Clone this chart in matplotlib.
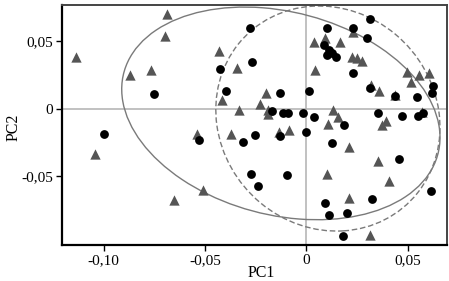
import matplotlib
matplotlib.use("Agg")
import matplotlib.pyplot as plt
from matplotlib.patches import Ellipse
from matplotlib.ticker import FixedLocator, FixedFormatter

# group 1 (triangles)
tri_x = [-0.0688, -0.0698, -0.1139, -0.0871, -0.0769, -0.0432, -0.0341, 0.0037,
         0.0040, -0.0417, -0.0201, -0.0229, -0.0333, -0.0188, -0.0188, -0.0542,
         -0.0370, -0.0133, -0.0084, -0.0509, -0.1041, -0.0652, 0.0228, 0.0094,
         0.0165, 0.0224, 0.0248, 0.0274, 0.0496, 0.0557, 0.0605, 0.0516,
         0.0318, 0.0360, 0.0437, 0.0568, 0.0132, 0.0155, 0.0109, 0.0371,
         0.0392, 0.0211, 0.0351, 0.0100, 0.0408, 0.0211, 0.0313]
tri_y = [0.0699, 0.0537, 0.0380, 0.0249, 0.0286, 0.0428, 0.0298, 0.0490,
         0.0286, 0.0068, 0.0114, 0.0035, -0.0010, -0.0010, -0.0035, -0.0183,
         -0.0183, -0.0172, -0.0157, -0.0600, -0.0335, -0.0677, 0.0569, 0.0520,
         0.0490, 0.0384, 0.0374, 0.0355, 0.0275, 0.0249, 0.0266, 0.0201,
         0.0179, 0.0131, 0.0101, -0.0022, -0.0010, -0.0058, -0.0109, -0.0120,
         -0.0087, -0.0281, -0.0384, -0.0482, -0.0536, -0.0656, -0.0933]

# group 2 (circles)
cir_x = [-0.0751, -0.0279, -0.0267, -0.0427, -0.0399, -0.0131, 0.0015, -0.0172,
         -0.0114, -0.0093, -0.0016, 0.0039, -0.0528, -0.0312, -0.0254, -0.0128,
         -0.0002, -0.0275, -0.0095, -0.0241, -0.0998, 0.0313, 0.0100, 0.0228,
         0.0297, 0.0089, 0.0111, 0.0104, 0.0128, 0.0145, 0.0231, 0.0626,
         0.0622, 0.0313, 0.0437, 0.0547, 0.0353, 0.0470, 0.0552, 0.0576,
         0.0185, 0.0124, 0.0458, 0.0614, 0.0091, 0.0325, 0.0111, 0.0201, 0.0182]
cir_y = [0.0109, 0.0594, 0.0347, 0.0295, 0.0131, 0.0114, 0.0134, -0.0019,
         -0.0030, -0.0030, -0.0034, -0.0064, -0.0231, -0.0244, -0.0194, -0.0202,
         -0.0170, -0.0482, -0.0490, -0.0571, -0.0189, 0.0662, 0.0594, 0.0594,
         0.0522, 0.0470, 0.0434, 0.0397, 0.0409, 0.0380, 0.0264, 0.0168,
         0.0116, 0.0151, 0.0092, 0.0089, -0.0034, -0.0052, -0.0054, -0.0034,
         -0.0120, -0.0250, -0.0371, -0.0608, -0.0699, -0.0669, -0.0784, -0.0768, -0.0938]

# confidence ellipses: center, width, height, angle
tri_ell = ((-0.0126, -0.0034), 0.174, 0.138, -45)
cir_ell = ((0.0106, -0.0072), 0.110, 0.1666, 5.3)

x_ticks = [-0.10, -0.05, 0, 0.05]
x_labels = ["-0,10", "-0,05", "0", "0,05"]
y_ticks = [-0.05, 0, 0.05]
y_labels = ["-0,05", "0", "0,05"]

plt.rcParams["font.family"] = ["Liberation Serif", "DejaVu Serif"]

fig = plt.figure(figsize=(4.49, 2.81), dpi=100)
ax = fig.add_axes([0.138, 0.129, 0.8586, 0.853])

ax.axhline(0, color="#b0b0b0", lw=1.1, zorder=1)
ax.axvline(0, color="#b0b0b0", lw=1.1, zorder=1)

c, w, h, a = tri_ell
ax.add_patch(Ellipse(c, w, h, angle=a, fill=False, ec="#7a7a7a", lw=1.0, zorder=2))
c, w, h, a = cir_ell
ax.add_patch(Ellipse(c, w, h, angle=a, fill=False, ec="#7a7a7a", lw=1.0,
                     ls=(0, (4, 2)), zorder=2))

ax.scatter(tri_x, tri_y, marker="^", s=55, color="#555555", lw=0, zorder=3)
ax.scatter(cir_x, cir_y, marker="o", s=40, color="black", lw=0, zorder=4)

ax.set_xlim(-0.1206, 0.0696)
ax.set_ylim(-0.1004, 0.0766)

ax.xaxis.set_major_locator(FixedLocator(x_ticks))
ax.xaxis.set_major_formatter(FixedFormatter(x_labels))
ax.yaxis.set_major_locator(FixedLocator(y_ticks))
ax.yaxis.set_major_formatter(FixedFormatter(y_labels))
ax.tick_params(direction="out", length=4.5, width=1.0, labelsize=11, pad=2,
               colors="black")

for side in ["left", "bottom"]:
    ax.spines[side].set_linewidth(1.6)
    ax.spines[side].set_color("black")
for side in ["top", "right"]:
    ax.spines[side].set_linewidth(1.4)
    ax.spines[side].set_color("#444444")

ax.set_xlabel("PC1", fontsize=11.5)
ax.set_ylabel("PC2", fontsize=11.5)
ax.xaxis.set_label_coords(0.516, -0.083)
ax.yaxis.set_label_coords(-0.106, 0.49)

fig.savefig("out.png", dpi=100)
